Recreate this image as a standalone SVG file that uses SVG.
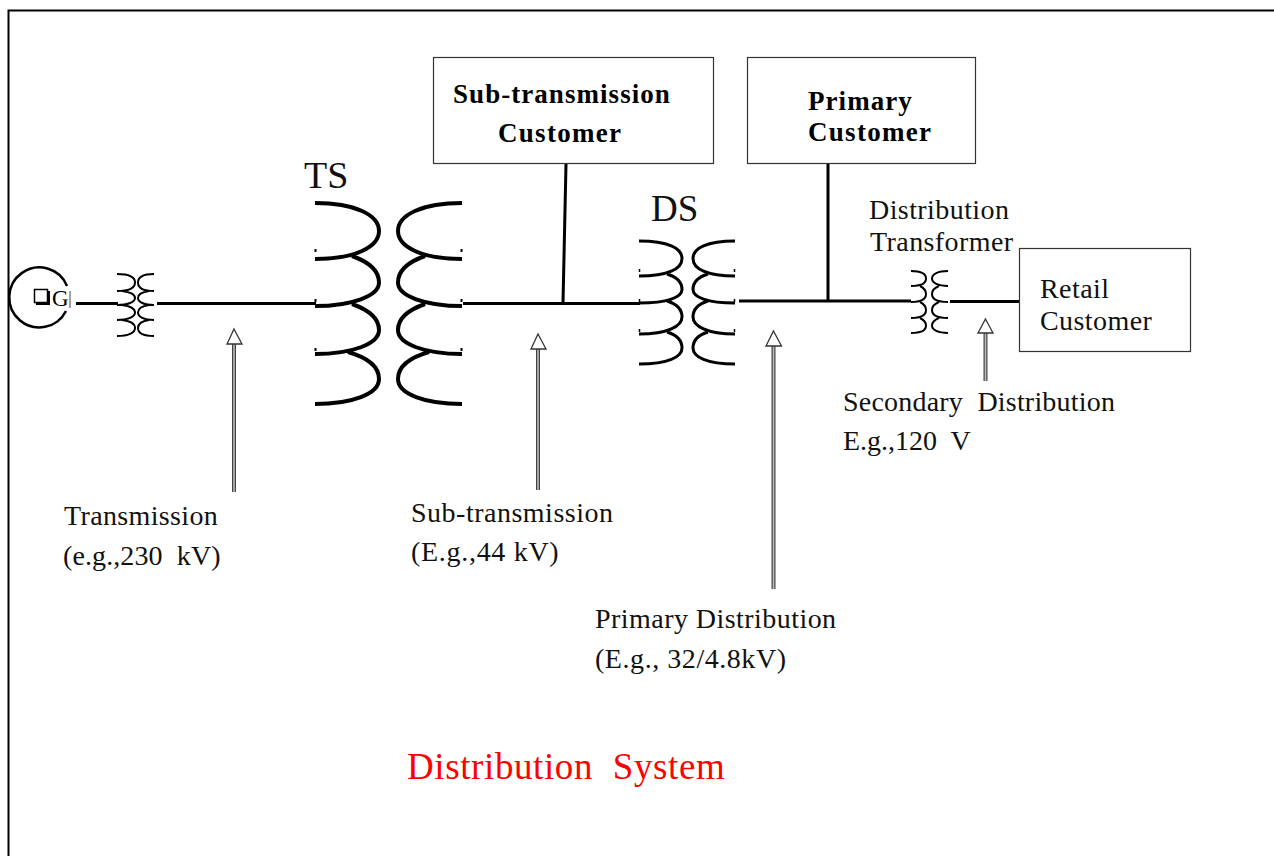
<svg xmlns="http://www.w3.org/2000/svg" width="1274" height="856" viewBox="0 0 1274 856">
<style>
text{font-family:"Liberation Serif","Times New Roman",serif;fill:#111}
.l{font-size:28px;letter-spacing:.42px}
.b{font-size:27px;font-weight:bold;fill:#000;letter-spacing:1.05px}
.w{fill:none;stroke:#000;stroke-width:3}
.c{fill:none;stroke:#000;stroke-linecap:butt}
.box{fill:#fff;stroke:#333;stroke-width:1.2}
.s{fill:none;stroke:#444;stroke-width:4}
.si{fill:none;stroke:#bbb;stroke-width:1.6}
.h{fill:#fff;stroke:#333;stroke-width:1.3}
</style>
<rect id="frame" x="8.500" y="10.500" width="1275" height="860" fill="#fff" stroke="#000" stroke-width="2"/>
<g id="connectors">
<path class="w" d="M76 303.500H118M157 303.500H316"/>
<path class="w" d="M463 303.500H640M563 303L566 164"/>
<path class="w" d="M739 301H911M828 301V164"/>
<path class="w" d="M950 301.500H1019"/>
<g id="arrow-transmission"><path class="s" d="M234 342V492"/><path class="si" d="M234 342V492"/><path class="h" d="M234 329L242 344H227Z"/></g>
<g id="arrow-subtransmission"><path class="s" d="M538 348V490"/><path class="si" d="M538 348V490"/><path class="h" d="M538 334L546 349H531Z"/></g>
<g id="arrow-primary"><path class="s" d="M773.500 345V589"/><path class="si" d="M773.500 345V589"/><path class="h" d="M773.500 331L781.500 346H766Z"/></g>
<g id="arrow-secondary"><path class="s" d="M985.500 332V381"/><path class="si" d="M985.500 332V381"/><path class="h" d="M985.500 319L993 333H978Z"/></g>
</g>
<g id="generator">
<path fill="none" stroke="#000" stroke-width="2.500" d="M67 286A30 30 0 1 0 66 311"/>
<path fill="none" stroke="#444" stroke-width="1" d="M70 291V308"/>
<rect x="34.500" y="289.500" width="13" height="13" fill="#fff" stroke="#000" stroke-width="1.500"/>
<path fill="none" stroke="#000" stroke-width="2" d="M36 304H49V291"/>
<text x="52" y="306" font-size="23" style="fill:#000">G</text>
</g>
<g id="transformer-gen">
<path class="c" stroke-width="2" d="M117 274C128 274 135 277 135 282.500C135 288 128 291 117 291M122 291C130 292 135 294 135 298C135 302 128 305 117 305M122 305C130 306 135 308 135 312.500C135 317 128 320 117 320M122 320C130 321 135 323 135 328C135 333 128 336 117 336"/>
<path class="c" stroke-width="2" d="M154 274C144 274 138 277 138 282.500C138 288 144 291 154 291M149 291C142 292 138 294 138 298C138 302 144 305 154 305M149 305C142 306 138 308 138 312.500C138 317 144 320 154 320M149 320C142 321 138 323 138 328C138 333 144 336 154 336"/>
</g>
<g id="transformer-ts">
<path class="c" stroke-width="4" d="M315 203C355 203 379 215 379 231C379 247 355 259 315 259M352 256C369 262 379 271 379 282.500C379 296 352 306 315 306M352 304C369 310 379 318 379 330C379 344 352 354 315 354M348 352C369 358 379 367 379 379C379 394 352 404 315 404"/>
<path class="c" stroke-width="4" d="M462 203C422 203 398 215 398 231C398 247 422 259 462 259M425 256C408 262 398 271 398 282.500C398 296 425 306 462 306M425 304C408 310 398 318 398 330C398 344 425 354 462 354M429 352C408 358 398 367 398 379C398 394 425 404 462 404"/>
<path stroke="#000" stroke-width="2" d="M315.500 249v3M315.500 299v3M315.500 348v3M461.500 249v3M461.500 299v3M461.500 348v3"/>
</g>
<g id="transformer-ds">
<path class="c" stroke-width="3" d="M639 241C668 241 682 248 682 258.500C682 269 668 276 639 276M667 274C677 277 682 283 682 289.500C682 297 668 303 639 303M667 301C677 304 682 310 682 317C682 326 668 334 639 334M667 332C677 335 682 341 682 348C682 357 668 364 639 364"/>
<path class="c" stroke-width="3" d="M735 241C707 241 693 248 693 258.500C693 269 707 276 735 276M708 274C698 277 693 283 693 289.500C693 297 707 303 735 303M708 301C698 304 693 310 693 317C693 326 707 334 735 334M708 332C698 335 693 341 693 348C693 357 707 364 735 364"/>
<path stroke="#000" stroke-width="1.500" d="M639.500 269v3M639.500 299v3M639.500 329v3M734.500 269v3M734.500 299v3M734.500 329v3"/>
</g>
<g id="transformer-dist">
<path class="c" stroke-width="2" d="M911 271C921 271 926 274 926 278.500C926 283 921 286 911 286M920 286C924 288 926 290 926 294C926 299 921 302 911 302M920 302C924 304 926 306 926 310C926 315 921 318 911 318M920 318C924 320 926 322 926 325.500C926 330 921 333 911 333"/>
<path class="c" stroke-width="2" d="M948 271C938 271 932 274 932 278.500C932 283 938 286 948 286M939 286C934 288 932 290 932 294C932 299 938 302 948 302M939 302C934 304 932 306 932 310C932 315 938 318 948 318M939 318C934 320 932 322 932 325.500C932 330 938 333 948 333"/>
</g>
<g id="node-sub"><rect class="box" x="433.500" y="57.500" width="280" height="106"/><text class="b" x="453" y="103">Sub-transmission</text><text class="b" x="498" y="142" style="letter-spacing:1.3px">Customer</text></g>
<g id="node-primary"><rect class="box" x="747.500" y="57.500" width="228" height="106"/><text class="b" x="808" y="110">Primary</text><text class="b" x="808" y="141" style="letter-spacing:1.3px">Customer</text></g>
<g id="node-retail"><rect class="box" x="1019.500" y="248.500" width="171" height="103"/><text class="l" x="1040" y="298">Retail</text><text class="l" x="1040" y="330">Customer</text></g>
<text x="304" y="188" font-size="38">TS</text>
<text x="651" y="221" font-size="37">DS</text>
<text class="l" x="869" y="219">Distribution</text>
<text class="l" x="870" y="251">Transformer</text>
<text class="l" x="64" y="525" style="letter-spacing:.35px">Transmission</text>
<text class="l" x="63" y="565" xml:space="preserve" style="letter-spacing:.1px">(e.g.,230  kV)</text>
<text class="l" x="411" y="522" style="letter-spacing:.5px">Sub-transmission</text>
<text class="l" x="411" y="561" style="letter-spacing:.7px">(E.g.,44 kV)</text>
<text class="l" x="595" y="628" style="letter-spacing:.45px">Primary Distribution</text>
<text class="l" x="595" y="668" style="letter-spacing:.55px">(E.g., 32/4.8kV)</text>
<text class="l" x="843" y="411" xml:space="preserve" style="letter-spacing:.2px">Secondary  Distribution</text>
<text class="l" x="843" y="450" xml:space="preserve" style="letter-spacing:0">E.g.,120  V</text>
<text x="407" y="779" font-size="37" style="fill:#f00;letter-spacing:.6px" xml:space="preserve">Distribution  System</text>
</svg>
